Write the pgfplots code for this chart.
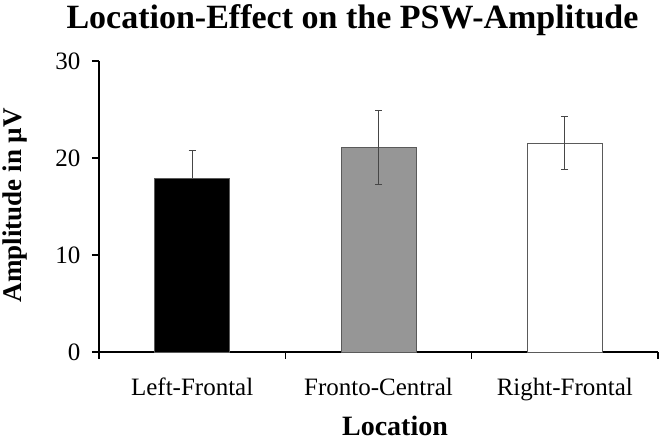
\documentclass[border=0pt]{standalone}
\usepackage{pgfplots}
\pgfplotsset{compat=1.18}
\usepackage{fontspec}
\setmainfont{Liberation Serif}
\definecolor{barline}{RGB}{90,90,90}
\definecolor{errc}{RGB}{70,70,70}
\definecolor{midgray}{RGB}{150,150,150}
\begin{document}
\begin{tikzpicture}
\useasboundingbox (-99pt,-92pt) rectangle (563pt,352pt);
\begin{axis}[
  at={(0pt,0pt)}, anchor=south west,
  scale only axis,
  width=559pt, height=291pt,
  xmin=-0.5, xmax=2.5,
  ymin=0, ymax=30,
  axis lines*=left,
  axis line style={black, line width=1.4pt},
  xtick={0,1,2},
  xticklabels={Left-Frontal,Fronto-Central,Right-Frontal},
  major x tick style={draw=none},
  minor xtick={-0.5,0.5,1.5,2.5},
  minor tick length=7pt,
  minor x tick style={black, line width=1.4pt},
  ytick={0,10,20,30},
  major tick length=7pt,
  tick align=outside,
  y tick style={black, line width=1.4pt},
  /pgf/number format/assume math mode=true,
  tick label style={font=\fontsize{25}{29}\selectfont},
  xticklabel style={anchor=base, yshift=-37pt},
  yticklabel style={anchor=east, xshift=-8pt},
  ybar, bar width=75pt, bar shift=0pt,
  clip=false,
]
\addplot[fill=black, draw=barline, line width=0.8pt,
  error bars/.cd, y dir=plus, y explicit,
  error bar style={errc, line width=1pt},
  error mark options={rotate=90, mark size=3.5pt, errc, line width=1pt}]
  coordinates {(0,17.9) +- (0,2.9)};
\addplot[fill=midgray, draw=barline, line width=0.8pt,
  error bars/.cd, y dir=both, y explicit,
  error bar style={errc, line width=1pt},
  error mark options={rotate=90, mark size=3.5pt, errc, line width=1pt}]
  coordinates {(1,21.05) +- (0,3.83)};
\addplot[fill=white, draw=barline, line width=0.8pt,
  error bars/.cd, y dir=both, y explicit,
  error bar style={errc, line width=1pt},
  error mark options={rotate=90, mark size=3.5pt, errc, line width=1pt}]
  coordinates {(2,21.55) +- (0,2.72)};
\end{axis}
\node[anchor=base, inner sep=0pt, font=\fontsize{34}{39}\selectfont\bfseries] at (253.5pt,323.7pt) {Location-Effect on the PSW-Amplitude};
\node[anchor=base, inner sep=0pt, font=\fontsize{28}{32}\selectfont\bfseries] at (296pt,-84pt) {Location};
\node[rotate=90, inner sep=0pt, anchor=center, font=\fontsize{27}{32}\selectfont\bfseries] at (-84pt,147pt) {Amplitude in µV};
\end{tikzpicture}
\end{document}
